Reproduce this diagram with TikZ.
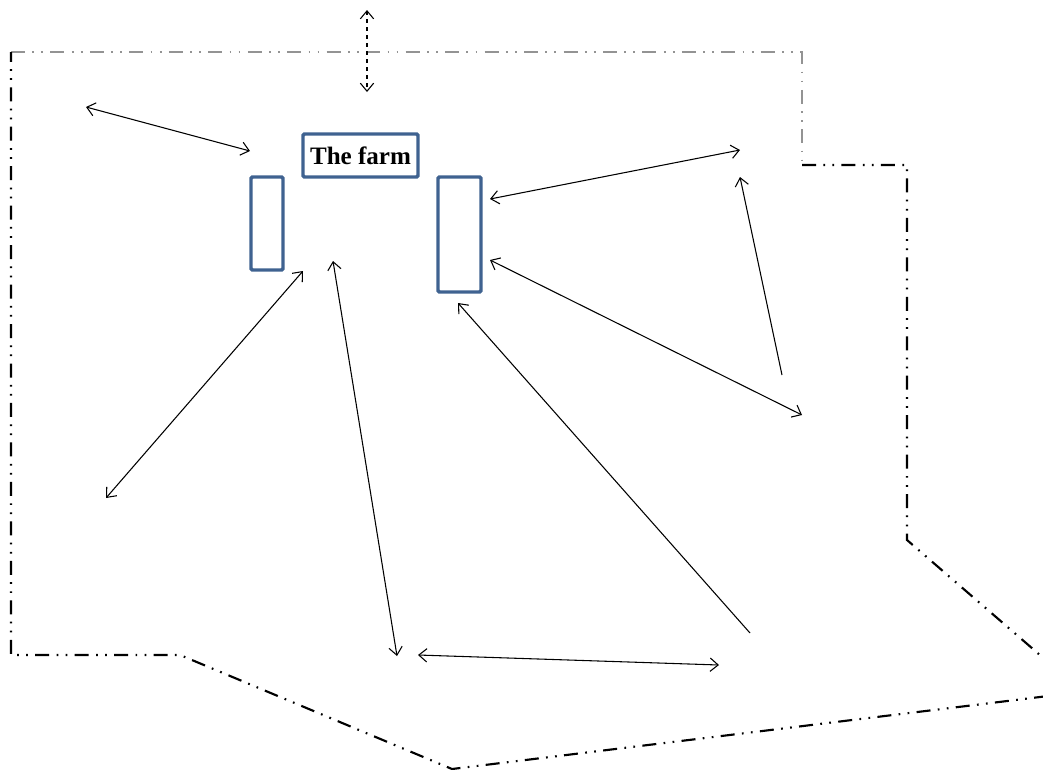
\documentclass[tikz,border=0pt]{standalone}
\usepackage{fontspec}
\setmainfont{Liberation Serif}
\usetikzlibrary{arrows.meta}
\definecolor{boxblue}{HTML}{3F6290}
\begin{document}
\begin{tikzpicture}[x=0.75pt,y=-0.75pt,
  bound/.style={line width=1.6pt,dash pattern=on 10.5pt off 5.5pt on 1.3pt off 5.5pt on 1.3pt off 5.5pt},
  graybound/.style={bound,draw=gray!85},
  building/.style={draw=boxblue,line width=2.6pt,rounded corners=1pt,inner sep=0pt},
  link/.style={line width=0.8pt,{Straight Barb[length=6pt,width=10pt]}-{Straight Barb[length=6pt,width=10pt]}},
  onelink/.style={line width=0.8pt,{Straight Barb[length=6pt,width=10pt]}-}]
\useasboundingbox (0,0) rectangle (1043,769);
% boundary
\draw[graybound] (11,52) -- (802,52) -- (802,165);
\draw[bound] (802,165) -- (907,165) -- (907,540) -- (1048,662);
\draw[bound] (1048,696) -- (452,769) -- (180,655) -- (11,655) -- (11,52);
% buildings
\node[building,minimum width=32*0.75pt,minimum height=93*0.75pt] (left) at (267,223.5) {};
\node[building,minimum width=115*0.75pt,minimum height=43*0.75pt,font=\bfseries\fontsize{18.8}{20}\selectfont] (farm) at (360.5,155.5) {The farm};
\node[building,minimum width=43*0.75pt,minimum height=115*0.75pt] (right) at (459.5,234.5) {};
% endpoints
\coordinate (a1) at (86,107); \coordinate (a2) at (250,151);
\coordinate (b1) at (367,10); \coordinate (b2) at (367,92);
\coordinate (c1) at (490,199); \coordinate (c2) at (740,150);
\coordinate (d1) at (740,177); \coordinate (d2) at (782,375);
\coordinate (e1) at (490,260); \coordinate (e2) at (802,415);
\coordinate (f1) at (458,303); \coordinate (f2) at (750,633);
\coordinate (g1) at (303,271); \coordinate (g2) at (106,498);
\coordinate (h1) at (333,261); \coordinate (h2) at (397,656);
\coordinate (i1) at (418,655); \coordinate (i2) at (719,665);
\draw[link] (a1) -- (a2);
\draw[link,dashed] (b1) -- (b2);
\draw[link] (c1) -- (c2);
\draw[onelink] (d1) -- (d2);
\draw[link] (e1) -- (e2);
\draw[onelink] (f1) -- (f2);
\draw[link] (g1) -- (g2);
\draw[link] (h1) -- (h2);
\draw[link] (i1) -- (i2);
\end{tikzpicture}
\end{document}
